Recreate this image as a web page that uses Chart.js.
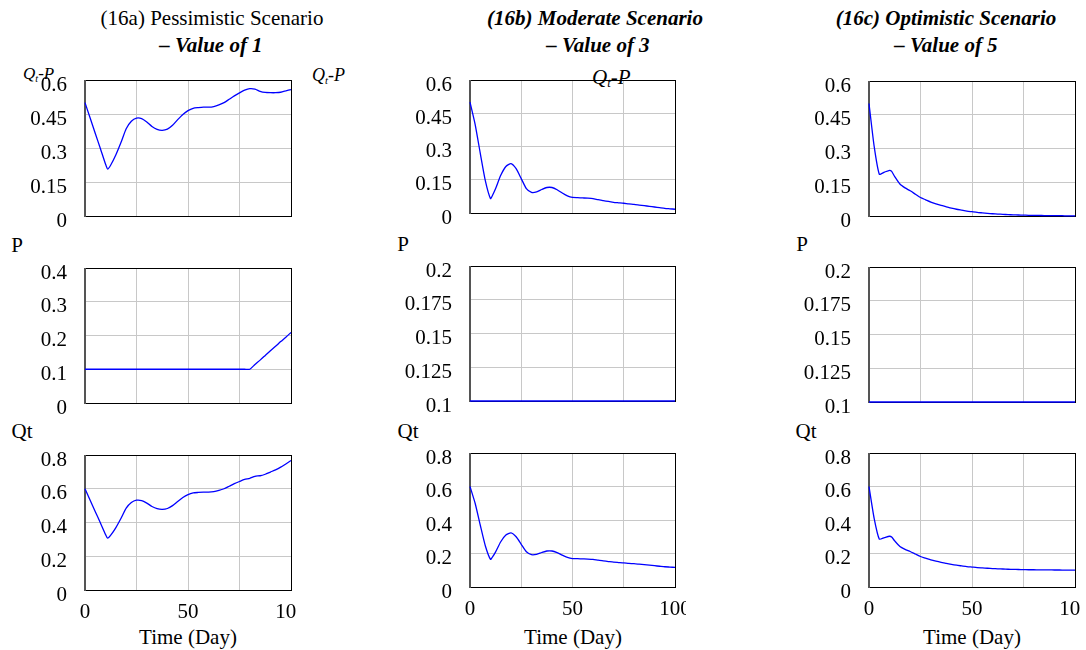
<!DOCTYPE html>
<html>
<head>
<meta charset="utf-8">
<script src="https://cdn.jsdelivr.net/npm/chart.js@4.4.1/dist/chart.umd.min.js"></script>
<style>
  body { margin: 0; background: #fff; width: 1086px; height: 650px; position: relative; overflow: hidden;
         font-family: 'Liberation Serif', 'Times New Roman', serif; color: #000; }
  .txt { position: absolute; white-space: nowrap; line-height: 1; font-size: 21px; transform: translate(-50%, -50%); }
  .bi { font-weight: bold; font-style: italic; }
  .lab { position: absolute; white-space: nowrap; line-height: 1; font-style: italic; }
  .lab sub { font-size: 0.6em; vertical-align: -0.25em; }
  .box { position: absolute; }
</style>
</head>
<body>

<div class="txt" style="left:212px;top:18px">(16a) Pessimistic Scenario</div>
<div class="txt bi" style="left:211px;top:45px">– Value of 1</div>
<div class="txt bi" style="left:595px;top:18px">(16b) Moderate Scenario</div>
<div class="txt bi" style="left:598px;top:45px">– Value of 3</div>
<div class="txt bi" style="left:946px;top:18px">(16c) Optimistic Scenario</div>
<div class="txt bi" style="left:946px;top:45px">– Value of 5</div>

<div class="lab" style="left:23px;top:65px;font-size:17px">Q<sub>t</sub>-P</div>
<div class="lab" style="left:312px;top:66px;font-size:18px">Q<sub>t</sub>-P</div>
<div class="lab" style="left:592px;top:67px;font-size:21px">Q<sub>t</sub>-P</div>

<div class="txt" style="left:17px;top:245px">P</div>
<div class="txt" style="left:403px;top:244px">P</div>
<div class="txt" style="left:802px;top:244px">P</div>
<div class="txt" style="left:22px;top:431px">Qt</div>
<div class="txt" style="left:408px;top:431px">Qt</div>
<div class="txt" style="left:806px;top:431px">Qt</div>

<div class="txt" style="left:188px;top:637px">Time (Day)</div>
<div class="txt" style="left:573px;top:637px">Time (Day)</div>
<div class="txt" style="left:972px;top:637px">Time (Day)</div>

<script>
// time axis (days)
const days = [0, 2.5, 5, 7.5, 10, 11, 12.5, 15, 17.5, 20, 22.5, 25, 27.5, 30, 32.5, 35, 37.5, 40, 42.5, 45,
  47.5, 50, 52.5, 55, 57.5, 60, 62.5, 65, 67.5, 70, 72.5, 75, 77.5, 80, 82.5, 85, 87.5, 90, 92.5, 95, 97.5, 100];

// (16a) pessimistic
const gapA = [0.50, 0.432, 0.364, 0.297, 0.228, 0.207, 0.225, 0.27, 0.325, 0.385, 0.418, 0.432, 0.43, 0.415,
  0.395, 0.382, 0.378, 0.383, 0.40, 0.425, 0.448, 0.465, 0.475, 0.478, 0.48, 0.48, 0.483, 0.49, 0.50, 0.515,
  0.53, 0.543, 0.555, 0.562, 0.56, 0.55, 0.545, 0.544, 0.544, 0.546, 0.552, 0.558];
const priceA = [0.1, 0.1, 0.1, 0.1, 0.1, 0.1, 0.1, 0.1, 0.1, 0.1, 0.1, 0.1, 0.1, 0.1, 0.1, 0.1, 0.1, 0.1, 0.1,
  0.1, 0.1, 0.1, 0.1, 0.1, 0.1, 0.1, 0.1, 0.1, 0.1, 0.1, 0.1, 0.1, 0.1, 0.1,
  0.114, 0.127, 0.141, 0.155, 0.168, 0.182, 0.195, 0.209];
const qtA = [0.60, 0.532, 0.464, 0.397, 0.328, 0.307, 0.325, 0.37, 0.425, 0.485, 0.518, 0.532, 0.53, 0.515,
  0.495, 0.482, 0.478, 0.483, 0.50, 0.525, 0.548, 0.565, 0.575, 0.578, 0.58, 0.58, 0.583, 0.59, 0.60, 0.615,
  0.63, 0.643, 0.655, 0.662, 0.674, 0.677, 0.686, 0.699, 0.712, 0.728, 0.747, 0.767];

// (16b) moderate
const gapB = [0.50, 0.40, 0.27, 0.145, 0.065, 0.08, 0.11, 0.17, 0.21, 0.223, 0.2, 0.155, 0.11, 0.093,
  0.095, 0.106, 0.115, 0.115, 0.105, 0.09, 0.077, 0.07, 0.069, 0.068, 0.067, 0.065, 0.06, 0.056, 0.052, 0.048,
  0.046, 0.044, 0.041, 0.039, 0.036, 0.033, 0.03, 0.027, 0.024, 0.021, 0.019, 0.017];
const priceB = [0.1, 0.1, 0.1, 0.1, 0.1, 0.1, 0.1, 0.1, 0.1, 0.1, 0.1, 0.1, 0.1, 0.1, 0.1, 0.1, 0.1, 0.1, 0.1,
  0.1, 0.1, 0.1, 0.1, 0.1, 0.1, 0.1, 0.1, 0.1, 0.1, 0.1, 0.1, 0.1, 0.1, 0.1, 0.1, 0.1, 0.1, 0.1, 0.1, 0.1, 0.1, 0.1];
const qtB = [0.60, 0.50, 0.37, 0.245, 0.165, 0.18, 0.21, 0.27, 0.31, 0.323, 0.30, 0.255, 0.21, 0.193,
  0.195, 0.206, 0.215, 0.215, 0.205, 0.19, 0.177, 0.17, 0.169, 0.168, 0.167, 0.165, 0.16, 0.156, 0.152, 0.148,
  0.146, 0.144, 0.141, 0.139, 0.136, 0.133, 0.13, 0.127, 0.124, 0.121, 0.119, 0.117];

// (16c) optimistic
const gapC = [0.50, 0.31, 0.186, 0.195, 0.203, 0.198, 0.175, 0.142, 0.125, 0.112, 0.097, 0.082, 0.072, 0.062,
  0.054, 0.047, 0.041, 0.035, 0.030, 0.026, 0.022, 0.019, 0.016, 0.014, 0.012, 0.010, 0.0085, 0.0075, 0.006,
  0.005, 0.0045, 0.004, 0.003, 0.003, 0.0025, 0.002, 0.002, 0.0015, 0.0015, 0.001, 0.001, 0.001];
const priceC = [0.1, 0.1, 0.1, 0.1, 0.1, 0.1, 0.1, 0.1, 0.1, 0.1, 0.1, 0.1, 0.1, 0.1, 0.1, 0.1, 0.1, 0.1, 0.1,
  0.1, 0.1, 0.1, 0.1, 0.1, 0.1, 0.1, 0.1, 0.1, 0.1, 0.1, 0.1, 0.1, 0.1, 0.1, 0.1, 0.1, 0.1, 0.1, 0.1, 0.1, 0.1, 0.1];
const qtC = [0.60, 0.41, 0.286, 0.295, 0.303, 0.298, 0.275, 0.242, 0.225, 0.212, 0.197, 0.182, 0.172, 0.162,
  0.154, 0.147, 0.141, 0.135, 0.130, 0.126, 0.122, 0.119, 0.116, 0.114, 0.112, 0.110, 0.1085, 0.1075, 0.106,
  0.105, 0.1045, 0.104, 0.103, 0.103, 0.1025, 0.102, 0.102, 0.1015, 0.1015, 0.101, 0.101, 0.101];

// tick values and labels
const xTicks = [0, 25, 50, 75, 100];
const xLabels = ['0', '', '50', '', '100'];
const gapTicks = [0, 0.15, 0.3, 0.45, 0.6];
const gapLabels = ['0', '0.15', '0.3', '0.45', '0.6'];
const priceTicksA = [0, 0.1, 0.2, 0.3, 0.4];
const priceLabelsA = ['0', '0.1', '0.2', '0.3', '0.4'];
const priceTicksBC = [0.1, 0.125, 0.15, 0.175, 0.2];
const priceLabelsBC = ['0.1', '0.125', '0.15', '0.175', '0.2'];
const qtTicks = [0, 0.2, 0.4, 0.6, 0.8];
const qtLabels = ['0', '0.2', '0.4', '0.6', '0.8'];

Chart.defaults.font.family = "'Liberation Serif', 'Times New Roman', serif";
Chart.defaults.font.size = 21;
Chart.defaults.color = '#000';

// black frame round the plot area, drawn under the line
const framePlugin = {
  id: 'frame',
  beforeDatasetsDraw(chart) {
    const { ctx, chartArea: a } = chart;
    const l = Math.round(a.left), t = Math.round(a.top), r = Math.round(a.right), b = Math.round(a.bottom);
    ctx.save();
    ctx.strokeStyle = '#000';
    ctx.lineWidth = 1;
    ctx.strokeRect(l + 0.5, t + 0.5, r - l, b - t);
    ctx.strokeStyle = '#555';
    ctx.lineWidth = 2;
    ctx.beginPath();
    ctx.moveTo(l, t);
    ctx.lineTo(l, b + 1);
    ctx.stroke();
    ctx.restore();
  }
};

function makePanel(box, clipRight, showX, series, yTicks, yLabels) {
  const padTop = 14;
  const bottom = showX ? 40 : 16;
  const yw = 80;
  const div = document.createElement('div');
  div.className = 'box';
  div.style.left = (box.left - yw) + 'px';
  div.style.top = (box.top - padTop) + 'px';
  div.style.width = (box.right - box.left + yw + clipRight) + 'px';
  div.style.height = (box.bottom - box.top + padTop + bottom) + 'px';
  const cv = document.createElement('canvas');
  div.appendChild(cv);
  document.body.appendChild(div);

  new Chart(cv, {
    type: 'line',
    data: {
      datasets: [{
        data: days.map((d, i) => ({ x: d, y: series[i] })),
        borderColor: '#0000ff',
        borderWidth: 1.3,
        pointRadius: 0,
        tension: 0.2,
        clip: 4
      }]
    },
    options: {
      responsive: true,
      maintainAspectRatio: false,
      animation: false,
      layout: { padding: { left: 0, top: padTop, right: clipRight, bottom: 0 } },
      plugins: { legend: { display: false }, tooltip: { enabled: false } },
      scales: {
        x: {
          type: 'linear',
          min: 0,
          max: 100,
          grid: { color: '#c8c8c8', drawTicks: false },
          border: { display: false },
          afterBuildTicks: s => { s.ticks = xTicks.map(v => ({ value: v })); },
          ticks: { display: showX, padding: 10, maxRotation: 0, autoSkip: false,
                   callback: (v, i) => xLabels[i] },
          afterFit: s => { s.height = bottom; s.paddingLeft = 0; s.paddingRight = 0; }
        },
        y: {
          type: 'linear',
          min: yTicks[0],
          max: yTicks[yTicks.length - 1],
          grid: { color: '#c8c8c8', drawTicks: false },
          border: { display: false },
          afterBuildTicks: s => { s.ticks = yTicks.map(v => ({ value: v })); },
          ticks: { padding: 18, labelOffset: 5, autoSkip: false,
                   callback: (v, i) => yLabels[i] },
          afterFit: s => { s.width = yw; s.paddingTop = 0; s.paddingBottom = 0; }
        }
      }
    },
    plugins: [framePlugin]
  });
}

// panel frames: [top row, middle row, bottom row] per column
makePanel({ left: 85, right: 291, top: 80, bottom: 216 }, 6, false, gapA, gapTicks, gapLabels);
makePanel({ left: 85, right: 291, top: 268, bottom: 403 }, 6, false, priceA, priceTicksA, priceLabelsA);
makePanel({ left: 85, right: 291, top: 455, bottom: 590 }, 6, true, qtA, qtTicks, qtLabels);

makePanel({ left: 470, right: 675, top: 80, bottom: 213 }, 11, false, gapB, gapTicks, gapLabels);
makePanel({ left: 470, right: 675, top: 266, bottom: 401 }, 11, false, priceB, priceTicksBC, priceLabelsBC);
makePanel({ left: 470, right: 675, top: 453, bottom: 587 }, 11, true, qtB, qtTicks, qtLabels);

makePanel({ left: 869, right: 1075, top: 81, bottom: 216 }, 6, false, gapC, gapTicks, gapLabels);
makePanel({ left: 869, right: 1075, top: 267, bottom: 402 }, 6, false, priceC, priceTicksBC, priceLabelsBC);
makePanel({ left: 869, right: 1075, top: 453, bottom: 587 }, 6, true, qtC, qtTicks, qtLabels);
</script>
</body>
</html>
